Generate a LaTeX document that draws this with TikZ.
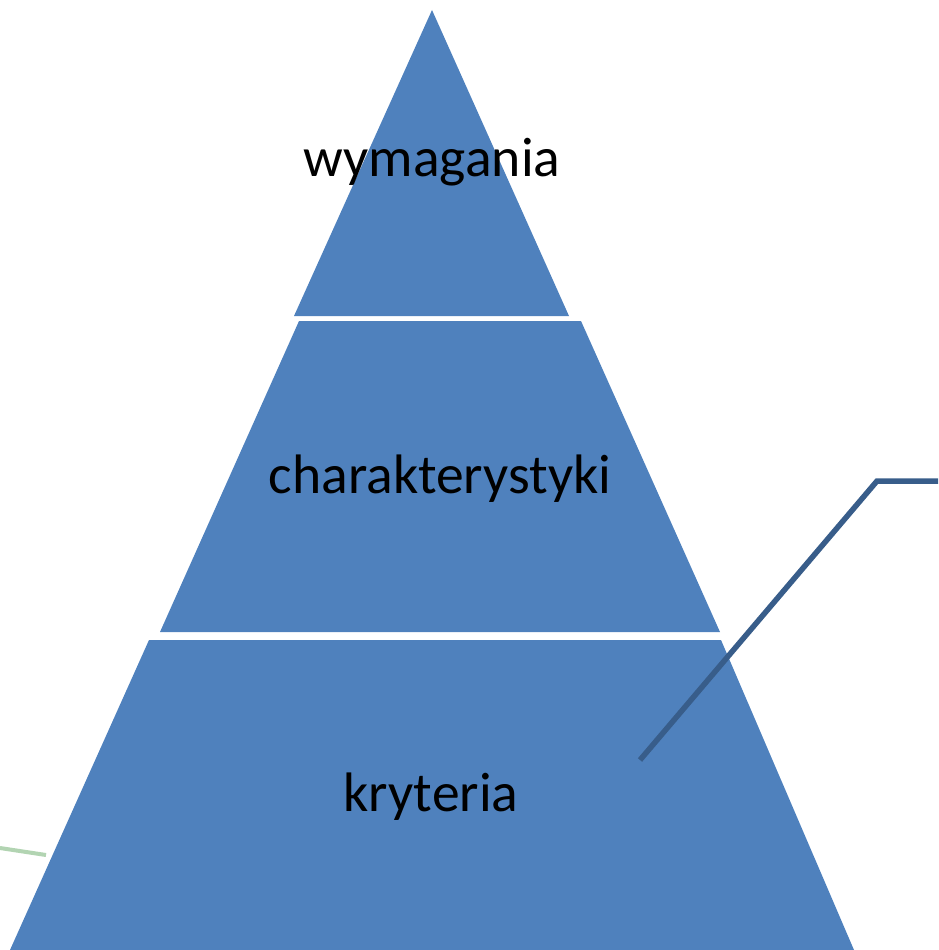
\documentclass[tikz,border=0pt]{standalone}
\usepackage{fontspec}
\setmainfont{Carlito}
\usepackage{tikz}
\usetikzlibrary{calc,positioning}
\definecolor{pyblue}{RGB}{79,129,189}
\definecolor{pyline}{RGB}{56,93,138}
\definecolor{pygreen}{RGB}{178,212,178}

\begin{document}
\begin{tikzpicture}[x=1pt,y=-1pt,font=\fontsize{55.6}{60}\selectfont,every node/.style={align=center,inner sep=0pt},
    layer/.style={fill=pyblue},lbl/.style={anchor=base}]
    \useasboundingbox (0,0) rectangle (938,950);
    % pyramid layers
    \fill[layer] (432,10) -- (569,316) -- (294,316) -- cycle;
    \fill[layer] (299,321) -- (581,321) -- (720,632) -- (160,632) -- cycle;
    \fill[layer] (149,640) -- (721,640) -- (854,950) -- (10,950) -- cycle;
    \node[lbl] (top) at (432,176) {wymagania};
    \node[lbl] (mid) at (440,493) {charakterystyki};
    \node[lbl] (bot) at (431,811) {kryteria};
    % callout lines
    \coordinate (cstart) at (640,760);
    \coordinate (cbend) at (877,481);
    \coordinate (cend) at (938,481);
    \draw[pyline,line width=5.5pt] (cstart) -- (cbend) -- (cend);
    \coordinate (gstart) at (0,848);
    \coordinate (gend) at (46,855);
    \draw[pygreen,line width=4pt] (gstart) -- (gend);
  \end{tikzpicture}
\end{document}
